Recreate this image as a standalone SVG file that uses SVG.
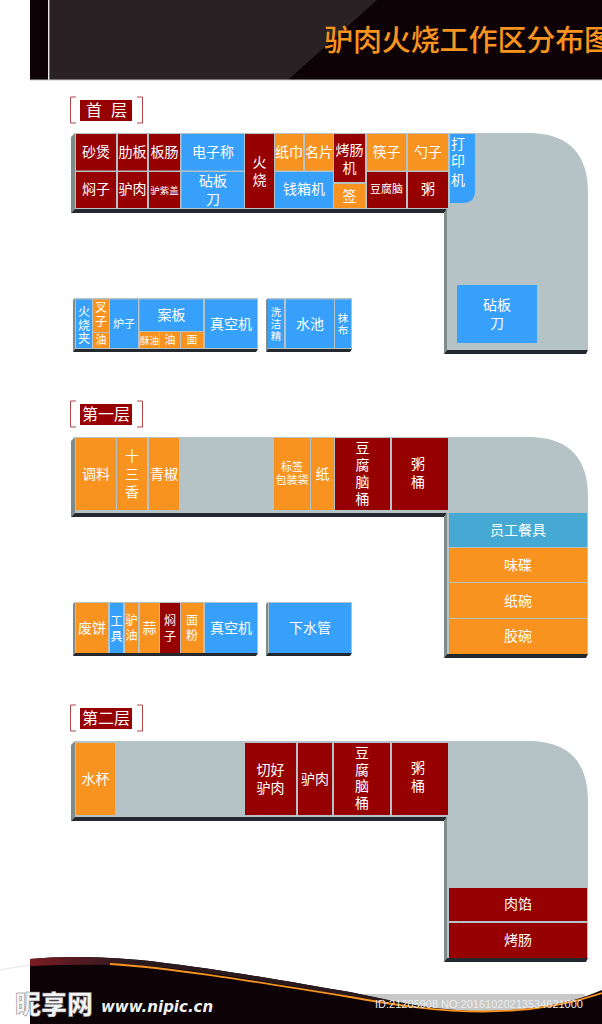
<svg xmlns="http://www.w3.org/2000/svg" width="602" height="1024" viewBox="0 0 602 1024">
<style>
text{font-family:"Noto Sans CJK SC","Noto Sans",sans-serif;fill:#fff;text-anchor:middle;font-size:14px}
.r{fill:#960000}.b{fill:#36a0fa}.o{fill:#f7931e}.c{fill:#45a9d4}
.s{font-size:11px}.x{font-size:9.500px}.m{font-size:12px}.l{font-size:16px}.t{font-size:10.500px}
.g{fill:#b5c3c6}.d{fill:#22282e}.e{fill:#7d8c8a}
.k{fill:none;stroke:#b5474a;stroke-width:1}
</style>
<defs>
<linearGradient id="fade" x1="30" y1="0" x2="130" y2="0" gradientUnits="userSpaceOnUse"><stop offset="0" stop-color="#7a1c22"/><stop offset="1" stop-color="#2a1a1e"/></linearGradient>
<g id="floor">
<path class="g" d="M75 133H528Q588 133 588 193V350H447V209H75Z"/>
<path class="e" d="M71 137L75 133V209L71 213Z"/>
<path class="d" d="M71 213L75 209H447L444 213Z"/>
<path class="e" d="M444 213L447 209V350L444 354Z"/>
<path class="d" d="M444 354L447 350H588L586 354Z"/>
</g>
<g id="blockA"><path class="g" d="M75 298H258V349H75Z"/><path class="e" d="M73 300L75 298V349L73 352Z"/><path class="d" d="M73 352L75 349H258L256 352Z"/></g>
<g id="blockB"><path class="g" d="M268 298H352V349H268Z"/><path class="e" d="M266 300L268 298V349L266 352Z"/><path class="d" d="M266 352L268 349H352L350 352Z"/></g>
<g id="tag"><path class="k" d="M76 97H70.500V123H76M137 97H142.500V123H137"/><rect x="80" y="100" width="52" height="21" class="r"/></g>
</defs>

<g id="header">
<rect x="30" width="572" height="80" fill="#0d0205"/>
<path d="M50 0H377L288 80H50Z" fill="#2a2125"/>
<rect x="48" width="1.500" height="80" fill="#e8e6e6"/>
<rect x="30" y="79.500" width="572" height="1" fill="#c8c8c8"/>
<text x="324" y="51" style="font-size:29px;text-anchor:start;fill:#f7931e;font-weight:500;letter-spacing:-.1px">驴肉火烧工作区分布图</text>
</g>

<g id="floor1-base"><use href="#floor"/><use href="#blockA"/><use href="#blockB"/></g>
<g id="floor2-base"><use href="#floor" y="304"/><use href="#blockA" y="304"/><use href="#blockB" y="304"/></g>
<g id="floor3-base"><use href="#floor" y="608"/></g>

<g id="label1"><use href="#tag"/><text class="l" x="94" y="116">首</text><text class="l" x="119" y="116">层</text></g>
<g id="label2"><use href="#tag" y="304"/><text class="l" x="106" y="420">第一层</text></g>
<g id="label3"><use href="#tag" y="608"/><text class="l" x="106" y="724">第二层</text></g>

<g id="n1"><rect class="r" x="76" y="134" width="40" height="36.500"/><text x="96" y="157">砂煲</text></g>
<g id="n2"><rect class="r" x="118" y="134" width="29" height="36.500"/><text x="132.500" y="157">肋板</text></g>
<g id="n3"><rect class="r" x="149" y="134" width="31" height="36.500"/><text x="164.500" y="157">板肠</text></g>
<g id="n4"><rect class="b" x="181.500" y="134" width="62.500" height="36.500"/><text x="213" y="157">电子称</text></g>
<g id="n5"><rect class="r" x="76" y="172" width="40" height="36"/><text x="96" y="194">焖子</text></g>
<g id="n6"><rect class="r" x="118" y="172" width="29" height="36"/><text x="132.500" y="194">驴肉</text></g>
<g id="n7"><rect class="r" x="149" y="172" width="31" height="36"/><text class="x" x="164.500" y="194">驴紫盖</text></g>
<g id="n8"><rect class="b" x="181.500" y="172" width="62.500" height="36"/><text x="213" y="186">砧板</text><text x="213" y="204">刀</text></g>
<g id="n9"><rect class="r" x="245" y="134" width="29" height="74"/><text x="259.500" y="167">火</text><text x="259.500" y="185">烧</text></g>
<g id="n10"><rect class="o" x="275" y="134" width="28" height="36.500"/><text x="289" y="157">纸巾</text></g>
<g id="n11"><rect class="o" x="305" y="134" width="28" height="36.500"/><text x="319" y="157">名片</text></g>
<g id="n12"><rect class="b" x="275" y="172" width="58" height="36"/><text x="304" y="194">钱箱机</text></g>
<g id="n13"><rect class="r" x="334" y="134" width="31" height="48"/><text x="349.500" y="155">烤肠</text><text x="349.500" y="173">机</text></g>
<g id="n14"><rect class="o" x="334" y="184" width="31" height="24"/><text x="349.500" y="201">签</text></g>
<g id="n15"><rect class="o" x="367" y="134" width="39" height="36.500"/><text x="386.500" y="157">筷子</text></g>
<g id="n16"><rect class="o" x="408" y="134" width="40" height="36.500"/><text x="428" y="157">勺子</text></g>
<g id="n17"><rect class="r" x="367" y="172" width="39" height="36"/><text class="s" x="386.500" y="193">豆腐脑</text></g>
<g id="n18"><rect class="r" x="408" y="172" width="40" height="36"/><text x="428" y="194">粥</text></g>
<g id="n19"><path class="b" d="M450 134H475V191Q475 203 463 203H450Z"/><text x="458" y="149">打</text><text x="458" y="166">印</text><text x="458" y="185">机</text></g>
<g id="n20"><rect class="b" x="457" y="285" width="80" height="58"/><text x="497" y="310">砧板</text><text x="497" y="328">刀</text></g>

<g id="n21"><rect class="b" x="76" y="299.500" width="16" height="48.500"/><text class="m" x="84" y="316">火</text><text class="m" x="84" y="329.500">烧</text><text class="m" x="84" y="343">夹</text></g>
<g id="n22"><rect class="o" x="93" y="299.500" width="16" height="32.500"/><text class="m" x="101" y="312">叉</text><text class="m" x="101" y="326">子</text></g>
<g id="n23"><rect class="o" x="93" y="333" width="16" height="15"/><text class="s" x="101" y="344">油</text></g>
<g id="n24"><rect class="b" x="110" y="299.500" width="28" height="48.500"/><text class="s" x="124" y="328">炉子</text></g>
<g id="n25"><rect class="b" x="139.500" y="299.500" width="63.500" height="31.500"/><text x="171.500" y="320">案板</text></g>
<g id="n26"><rect class="o" x="140" y="332" width="19" height="16"/><text class="x" x="149.500" y="344">酥油</text></g>
<g id="n27"><rect class="o" x="160" y="332" width="20" height="16"/><text class="s" x="170" y="344">油</text></g>
<g id="n28"><rect class="o" x="181" y="332" width="22" height="16"/><text class="s" x="192" y="344">面</text></g>
<g id="n29"><rect class="b" x="205" y="299.500" width="52" height="48.500"/><text x="231" y="329">真空机</text></g>
<g id="n30"><rect class="b" x="268" y="299.500" width="16" height="48.500"/><text class="t" x="276" y="316">洗</text><text class="t" x="276" y="328">洁</text><text class="t" x="276" y="340">精</text></g>
<g id="n31"><rect class="b" x="286" y="299.500" width="48" height="48.500"/><text x="310" y="329">水池</text></g>
<g id="n32"><rect class="b" x="335" y="299.500" width="16" height="48.500"/><text class="t" x="343" y="322">抹</text><text class="t" x="343" y="334">布</text></g>

<g id="n33"><rect class="o" x="76" y="438" width="40" height="72"/><text x="96" y="479">调料</text></g>
<g id="n34"><rect class="o" x="117" y="438" width="30" height="72"/><text x="132" y="461">十</text><text x="132" y="479">三</text><text x="132" y="497">香</text></g>
<g id="n35"><rect class="o" x="149" y="438" width="30" height="72"/><text x="164" y="479">青椒</text></g>
<g id="n36"><rect class="o" x="274" y="438" width="36" height="72"/><text class="s" x="292" y="471">标签</text><text class="s" x="292" y="484">包装袋</text></g>
<g id="n37"><rect class="o" x="311" y="438" width="23" height="72"/><text x="322.500" y="479">纸</text></g>
<g id="n38"><rect class="r" x="335" y="438" width="55" height="72"/><text x="362.500" y="453">豆</text><text x="362.500" y="470">腐</text><text x="362.500" y="487">脑</text><text x="362.500" y="504">桶</text></g>
<g id="n39"><rect class="r" x="392" y="438" width="56" height="72"/><text x="418" y="469">粥</text><text x="418" y="487">桶</text></g>
<g id="n40"><rect class="c" x="449" y="513" width="138" height="34"/><text x="518" y="535">员工餐具</text></g>
<g id="n41"><rect class="o" x="449" y="548" width="138" height="34"/><text x="518" y="570">味碟</text></g>
<g id="n42"><rect class="o" x="449" y="583" width="138" height="35"/><text x="518" y="606">纸碗</text></g>
<g id="n43"><rect class="o" x="449" y="619" width="138" height="35"/><text x="518" y="641">胶碗</text></g>

<g id="n44"><rect class="o" x="76" y="603" width="32" height="50"/><text x="92" y="633">废饼</text></g>
<g id="n45"><rect class="b" x="110" y="603" width="13" height="50"/><text class="m" x="116.500" y="626">工</text><text class="m" x="116.500" y="641">具</text></g>
<g id="n46"><rect class="o" x="125" y="603" width="13" height="50"/><text class="m" x="131.500" y="625">驴</text><text class="m" x="131.500" y="640">油</text></g>
<g id="n47"><rect class="o" x="140" y="603" width="19" height="50"/><text x="149.500" y="633">蒜</text></g>
<g id="n48"><rect class="r" x="160" y="603" width="20" height="50"/><text class="m" x="170" y="625">焖</text><text class="m" x="170" y="641">子</text></g>
<g id="n49"><rect class="o" x="181" y="603" width="22" height="50"/><text class="m" x="192" y="625">面</text><text class="m" x="192" y="640">粉</text></g>
<g id="n50"><rect class="b" x="205" y="603" width="52" height="50"/><text x="231" y="633">真空机</text></g>
<g id="n51"><rect class="b" x="269" y="603" width="82" height="50"/><text x="310" y="633">下水管</text></g>

<g id="n52"><rect class="o" x="76" y="743" width="39" height="72"/><text x="95.500" y="784">水杯</text></g>
<g id="n53"><rect class="r" x="245" y="743" width="51" height="72"/><text x="270.500" y="775">切好</text><text x="270.500" y="793">驴肉</text></g>
<g id="n54"><rect class="r" x="298" y="743" width="34" height="72"/><text x="315" y="784">驴肉</text></g>
<g id="n55"><rect class="r" x="334" y="743" width="56" height="72"/><text x="362" y="758">豆</text><text x="362" y="775">腐</text><text x="362" y="791">脑</text><text x="362" y="808">桶</text></g>
<g id="n56"><rect class="r" x="392" y="743" width="56" height="72"/><text x="418" y="773">粥</text><text x="418" y="791">桶</text></g>
<g id="n57"><rect class="r" x="449" y="888" width="138" height="33"/><text x="518" y="909">肉馅</text></g>
<g id="n58"><rect class="r" x="449" y="923" width="138" height="35"/><text x="518" y="945">烤肠</text></g>

<g id="connectors"></g>

<g id="footer">
<path d="M0 970Q15 967 30 965" fill="none" stroke="#e6e6e6"/>
<rect x="358" y="994" width="227" height="18" fill="#c8c8c8"/>
<path d="M30 959C60 956 100 956 150 961C240 972 300 984 350 992C400 1003 440 1011 483 1011C530 1011 570 1004 602 990V1024H30Z" fill="#0d0205"/>
<path d="M30 959C60 956 100 956 150 961C240 972 300 984 350 992C380 998 400 1003 420 1006C390 1002 370 999 350 997C300 988 240 976 170 968C130 964 80 964 30 966Z" fill="url(#fade)"/>
<path d="M110 964C170 968 233 978 350 997C400 1006 440 1011.500 483 1011.500C530 1011.500 570 1004 602 993" fill="none" stroke="#f7931e" stroke-width="1.800"/>
<text x="54" y="1014" style="font-size:26px;font-weight:900;fill:#f4f4f4;stroke:#777;stroke-width:.5px">昵享网</text>
<text x="101" y="1012" style="font-size:15px;font-weight:700;font-style:italic;text-anchor:start;font-family:'DejaVu Sans',sans-serif;fill:#f0f0f0">www.nipic.cn</text>
<text x="375" y="1008" style="font-size:11px;text-anchor:start;font-family:'Liberation Sans',sans-serif;fill:#ececec">ID:21205908 NO:20161020213534621000</text>
</g>
</svg>
